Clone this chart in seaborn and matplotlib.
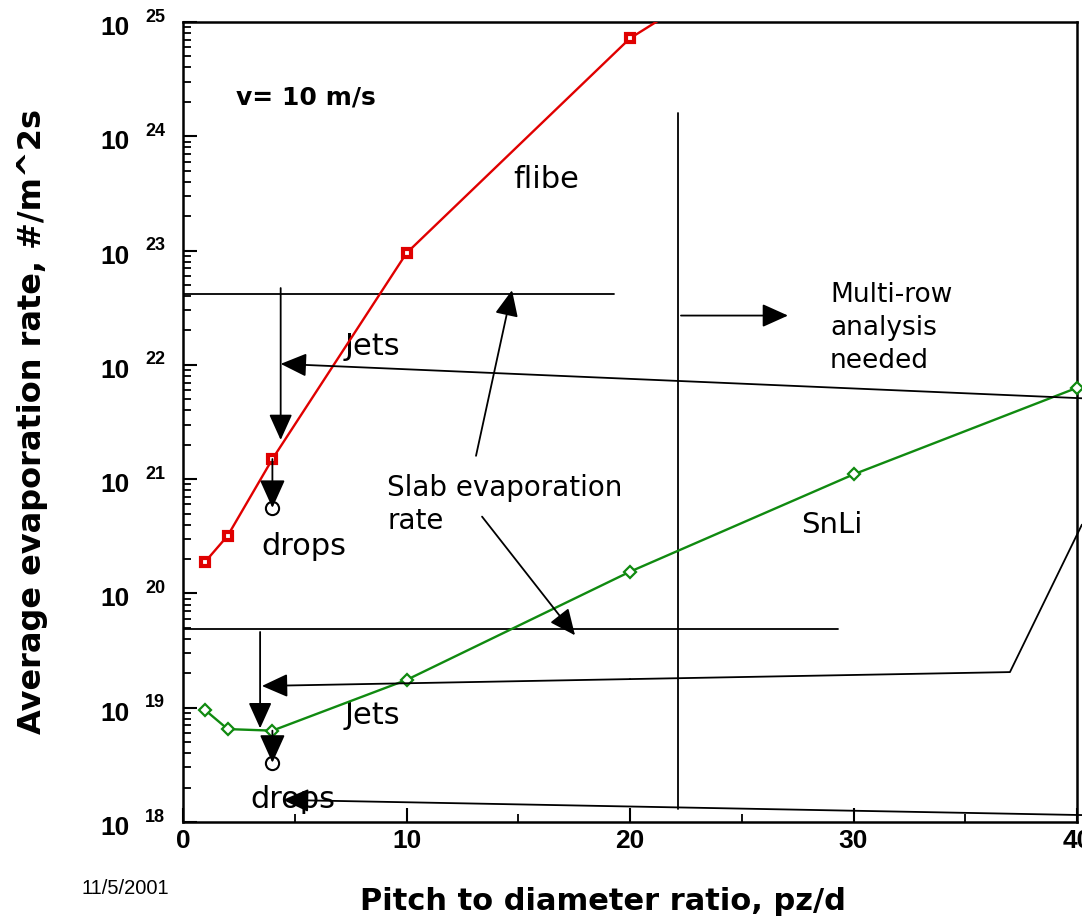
import matplotlib
matplotlib.use("Agg")
import matplotlib.pyplot as plt
import seaborn as sns
from matplotlib.ticker import MultipleLocator, LogLocator, NullFormatter

# series
x_flibe = [1, 2, 4, 10, 20, 30]
y_flibe = [1.9e20, 3.2e20, 1.5e21, 9.5e22, 7.2e24, 1.2e26]
x_snli = [1, 2, 4, 10, 20, 30, 40]
y_snli = [9.5e18, 6.5e18, 6.3e18, 1.75e19, 1.55e20, 1.1e21, 6.3e21]
x_drops = [4, 4]
y_drops = [5.6e20, 3.3e18]

# slab evaporation rates (horizontal lines) and their extents
slab_rates = [4.16e22, 4.9e19]
slab_ends = [19.3, 29.3]

# multi-row boundary
multirow_x = 22.15
multirow_span = [1.3e18, 1.6e24]

y_exponents = [18, 19, 20, 21, 22, 23, 24, 25]
x_ticks = [0, 10, 20, 30, 40]

RED = "#e00000"
GREEN = "#108a10"

sns.set_style("ticks")
plt.rcParams["font.family"] = ["DejaVu Sans"]
plt.rcParams["text.color"] = "black"
plt.rcParams["axes.labelcolor"] = "black"
plt.rcParams["xtick.color"] = "black"
plt.rcParams["ytick.color"] = "black"

fig = plt.figure(figsize=(10.82, 9.23), dpi=100)
ax = fig.add_axes([183 / 1082, 1 - 822 / 923, 894 / 1082, 800 / 923])

sns.lineplot(x=x_flibe, y=y_flibe, ax=ax, color=RED, linewidth=1.7,
             marker="s", markersize=5.5, markerfacecolor="white",
             markeredgecolor=RED, markeredgewidth=3, zorder=4)
sns.lineplot(x=x_snli, y=y_snli, ax=ax, color=GREEN, linewidth=1.7,
             marker="D", markersize=6, markerfacecolor="white",
             markeredgecolor=GREEN, markeredgewidth=1.6, zorder=4,
             clip_on=False)
ax.plot(x_drops, y_drops, linestyle="none", marker="o", markersize=9.5,
        markerfacecolor="none", markeredgecolor="black",
        markeredgewidth=1.5, zorder=5)

ax.set_yscale("log")
ax.set_xlim(0, 40)
ax.set_ylim(1e18, 1e25)

# slab lines and multi-row boundary
for rate, end in zip(slab_rates, slab_ends):
    ax.plot([0, end], [rate, rate], color="black", lw=1.3, zorder=3)
ax.plot([multirow_x, multirow_x], multirow_span, color="black", lw=1.3, zorder=3)

head = "-|>,head_length=0.8,head_width=0.36"


def arrow(tail, tip, scale=20):
    ax.annotate("", xy=tip, xytext=tail,
                arrowprops=dict(arrowstyle=head, color="black", lw=1.3,
                                shrinkA=0, shrinkB=0, mutation_scale=scale),
                zorder=6)


# down from slab rate to jets
arrow((4.37, 4.7e22), (4.37, 2.2e21))
arrow((3.45, 4.6e19), (3.45, 6.6e18))
# jets to drops
arrow((4, 1.5e21), (4, 5.6e20), scale=22)
arrow((4, 6.3e18), (4, 3.3e18), scale=22)
# long pointer lines from the right
arrow((40.22, 5.1e21), (4.37, 1.02e22))
ax.plot([40.22, 37.0, 20.0], [4.0e20, 2.05e19, 1.78e19], color="black",
        lw=1.3, clip_on=False, zorder=3)
arrow((20.0, 1.78e19), (3.53, 1.55e19))
arrow((40.22, 1.15e18), (4.47, 1.56e18))
# slab evaporation rate pointers
arrow((13.11, 1.6e21), (14.72, 4.5e22))
arrow((13.38, 4.7e20), (17.54, 4.3e19))
# multi-row pointer
arrow((22.28, 2.7e22), (27.07, 2.7e22))

# annotations
ax.text(2.37, 2.2e24, "v= 10 m/s", fontsize=18, fontweight="bold",
        ha="left", va="center")
ax.text(16.24, 4.2e23, "flibe", fontsize=22, ha="center", va="center")
ax.text(8.46, 1.45e22, "Jets", fontsize=22, ha="center", va="center")
ax.text(5.41, 2.6e20, "drops", fontsize=22, ha="center", va="center")
ax.text(9.13, 6.0e20, "Slab evaporation\nrate", fontsize=20, ha="left",
        va="center", linespacing=1.25)
ax.text(29.04, 4.0e20, "SnLi", fontsize=21, ha="center", va="center")
ax.text(28.95, 2.1e22, "Multi-row\nanalysis\nneeded", fontsize=19,
        ha="left", va="center", linespacing=1.35)
ax.text(8.46, 8.6e18, "Jets", fontsize=22, ha="center", va="center")
ax.text(4.92, 1.56e18, "drops", fontsize=22, ha="center", va="center",
        zorder=2)

# axes styling
for side in ["top", "right", "left", "bottom"]:
    ax.spines[side].set_linewidth(1.8)
    ax.spines[side].set_color("black")

ax.xaxis.set_major_locator(MultipleLocator(10))
ax.xaxis.set_minor_locator(MultipleLocator(5))
ax.yaxis.set_major_locator(LogLocator(base=10, numticks=20))
ax.yaxis.set_minor_locator(LogLocator(base=10, subs=range(2, 10), numticks=20))
ax.yaxis.set_major_formatter(NullFormatter())
ax.yaxis.set_minor_formatter(NullFormatter())
ax.tick_params(which="major", direction="in", length=10, width=1.5,
               top=False, right=False)
ax.tick_params(which="minor", direction="in", length=6, width=1.3,
               top=False, right=False)
ax.tick_params(axis="x", pad=5)
ax.set_xticks(x_ticks)
ax.set_xticklabels([str(v) for v in x_ticks], fontsize=19,
                   fontweight="bold", family="Liberation Sans")

for e in y_exponents:
    ax.annotate("10", xy=(0, 10.0 ** e), xycoords=("axes fraction", "data"),
                xytext=(-53, -6), textcoords="offset pixels", ha="right",
                va="center", fontsize=19, fontweight="bold",
                family="Liberation Sans", annotation_clip=False)
    ax.annotate(str(e), xy=(0, 10.0 ** e), xycoords=("axes fraction", "data"),
                xytext=(-38, 5), textcoords="offset pixels", ha="left",
                va="center", fontsize=13, fontweight="bold",
                family="Liberation Sans", annotation_clip=False)

ax.set_xlabel("Pitch to diameter ratio, pz/d", fontsize=22, fontweight="bold")
ax.xaxis.label.set_va("center")
ax.xaxis.set_label_coords(0.470, -0.10)
ax.set_ylabel("Average evaporation rate, #/m^2s", fontsize=23,
              fontweight="bold")
ax.yaxis.label.set_va("center")
ax.yaxis.set_label_coords(-0.168, 0.5)

fig.text(125 / 1082, 1 - 888 / 923, "11/5/2001", fontsize=14.5,
         family="Liberation Sans", ha="center", va="center")

fig.savefig("out.png", dpi=100)
